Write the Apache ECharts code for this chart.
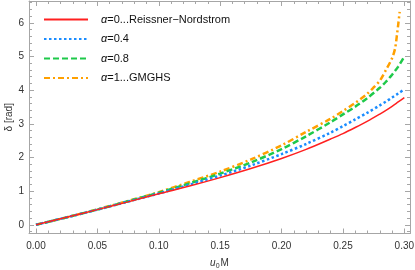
<!DOCTYPE html>
<html>
<head>
<meta charset="utf-8">
<script src="https://cdn.jsdelivr.net/npm/echarts@6/dist/echarts.min.js"></script>
<style>html,body{margin:0;padding:0;background:#fff}#c{width:415px;height:270px}</style>
</head>
<body>
<div id="c"></div>
<script>
// ---- data ----
var uGrid = [0, 0.025, 0.05, 0.075, 0.1, 0.125, 0.15, 0.175, 0.2, 0.22, 0.24, 0.25, 0.26, 0.27, 0.28, 0.285, 0.29, 0.295, 0.3];
var deltaA0 = [0, 0.22, 0.45, 0.68, 0.92, 1.15, 1.40, 1.67, 1.97, 2.24, 2.55, 2.71, 2.89, 3.08, 3.29, 3.40, 3.52, 3.65, 3.78];
var deltaA04 = [0, 0.22, 0.45, 0.69, 0.93, 1.19, 1.46, 1.76, 2.10, 2.40, 2.74, 2.93, 3.13, 3.33, 3.55, 3.66, 3.78, 3.90, 4.03];
var deltaA08 = [0, 0.22, 0.45, 0.70, 0.95, 1.23, 1.52, 1.85, 2.25, 2.63, 3.05, 3.28, 3.51, 3.77, 4.07, 4.25, 4.46, 4.70, 5.00];
var uGridA1 = [0, 0.025, 0.05, 0.075, 0.1, 0.125, 0.15, 0.175, 0.2, 0.22, 0.24, 0.25, 0.26, 0.27, 0.275, 0.28, 0.285, 0.29, 0.2925, 0.294, 0.295, 0.2962];
var deltaA1 = [0, 0.22, 0.46, 0.71, 0.97, 1.27, 1.58, 1.94, 2.36, 2.76, 3.15, 3.38, 3.62, 3.90, 4.08, 4.28, 4.60, 4.95, 5.25, 5.65, 5.95, 6.33];
var seriesNames = ['α=0...Reissner−Nordstrom', 'α=0.4', 'α=0.8', 'α=1...GMGHS'];
var xTicks = [0, 0.05, 0.1, 0.15, 0.2, 0.25, 0.3];
var xMinorTicks = [0.01, 0.02, 0.03, 0.04, 0.06, 0.07, 0.08, 0.09, 0.11, 0.12, 0.13, 0.14, 0.16, 0.17, 0.18, 0.19, 0.21, 0.22, 0.23, 0.24, 0.26, 0.27, 0.28, 0.29];
var yTicks = [0, 1, 2, 3, 4, 5, 6];
var yMinorTicks = [-0.2, 0.2, 0.4, 0.6, 0.8, 1.2, 1.4, 1.6, 1.8, 2.2, 2.4, 2.6, 2.8, 3.2, 3.4, 3.6, 3.8, 4.2, 4.4, 4.6, 4.8, 5.2, 5.4, 5.6, 5.8, 6.2, 6.4, 6.6];

// ---- chart ----
function pairs(xs, ys) { return xs.map(function (x, i) { return [x, ys[i]]; }); }
var X_MIN = -0.0057, X_MAX = 0.3046, Y_MIN = -0.26, Y_MAX = 6.65;
var frame = '#a6a6a6', txt = '#333';
var font = 'Liberation Sans, Arial, sans-serif';

function xAx(pos, ticks, len, labels, line) {
  return {
    type: 'value', position: pos, min: X_MIN, max: X_MAX,
    axisLine: { show: line, onZero: false, lineStyle: { color: frame, width: 1 } },
    axisTick: { show: true, inside: true, length: len, customValues: ticks, lineStyle: { color: frame, width: 1 } },
    axisLabel: labels ? { show: true, customValues: ticks, margin: 8, color: txt, fontSize: 10, fontFamily: font,
      formatter: function (v) { return v.toFixed(2); } } : { show: false },
    splitLine: { show: false }
  };
}
function yAx(pos, ticks, len, labels, line) {
  return {
    type: 'value', position: pos, min: Y_MIN, max: Y_MAX,
    axisLine: { show: line, onZero: false, lineStyle: { color: frame, width: 1 } },
    axisTick: { show: true, inside: true, length: len, customValues: ticks, lineStyle: { color: frame, width: 1 } },
    axisLabel: labels ? { show: true, customValues: ticks, margin: 5, color: txt, fontSize: 10, fontFamily: font,
      formatter: function (v) { return String(Math.round(v)); } } : { show: false },
    splitLine: { show: false }
  };
}

var xAxes = [xAx('bottom', xTicks, 5, true, true), xAx('bottom', xMinorTicks, 3, false, false),
  xAx('top', xTicks, 5, false, true), xAx('top', xMinorTicks, 3, false, false)];
xAxes[0].name = '{i|u}{s|0}M';
xAxes[0].nameLocation = 'middle';
xAxes[0].nameGap = 24;
xAxes[0].nameMoveOverlap = false;
xAxes[0].nameTextStyle = { color: txt, fontSize: 10, fontFamily: font,
  rich: { i: { fontStyle: 'italic', fontSize: 10, fontFamily: font, color: txt },
          s: { fontSize: 7, fontFamily: font, color: txt, padding: [5, 1, 0, 0] } } };
var yAxes = [yAx('left', yTicks, 5, true, true), yAx('left', yMinorTicks, 3, false, false),
  yAx('right', yTicks, 5, false, true), yAx('right', yMinorTicks, 3, false, false)];
yAxes[0].name = 'δ [rad]';
yAxes[0].nameLocation = 'middle';
yAxes[0].nameGap = 15;
yAxes[0].nameMoveOverlap = false;
yAxes[0].nameTextStyle = { color: txt, fontSize: 10, fontFamily: font };

var colors = ['#ff2020', '#1a8cff', '#1ec94a', '#ffa000'];
var styles = [
  { type: 'solid', width: 1.5 },
  { type: [2.5, 2.5], width: 2.5 },
  { type: [6, 3], width: 2.5 },
  { type: [6, 3, 2, 3], width: 2.5 }
];
var dataSets = [pairs(uGrid, deltaA0), pairs(uGrid, deltaA04), pairs(uGrid, deltaA08), pairs(uGridA1, deltaA1)];

var series = dataSets.map(function (d, i) {
  return {
    name: seriesNames[i], type: 'line', data: d, smooth: 0.3, showSymbol: false, symbol: 'none',
    xAxisIndex: 0, yAxisIndex: 0, z: 10 - i,
    lineStyle: { color: colors[i], width: styles[i].width, type: styles[i].type },
    itemStyle: { color: colors[i] }
  };
});

var chart = echarts.init(document.getElementById('c'), null, { renderer: 'canvas' });
chart.setOption({
  animation: false,
  grid: { left: 29, right: 5, top: 1, bottom: 36.5, containLabel: false, outerBoundsMode: 'none' },
  xAxis: xAxes,
  yAxis: yAxes,
  legend: {
    left: 38, top: 9, orient: 'vertical', itemWidth: 44, itemHeight: 14, itemGap: 8.3,
    data: seriesNames,
    itemStyle: { opacity: 0 },
    formatter: function (n) { return '{a|α}' + n.slice(1); },
    textStyle: { color: '#111', fontSize: 11, fontFamily: font, padding: [0, 0, 0, 8],
      rich: { a: { fontStyle: 'italic', fontSize: 11, fontFamily: font, color: '#111' } } }
  },
  series: series
});
</script>
</body>
</html>
